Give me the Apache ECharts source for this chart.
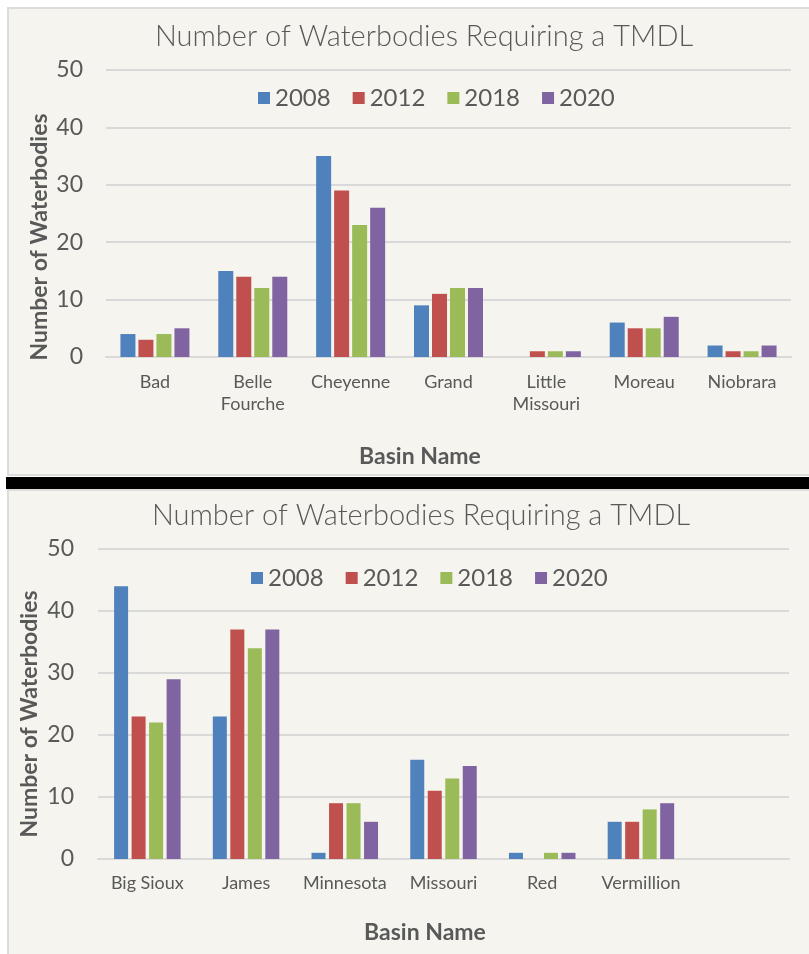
<!DOCTYPE html>
<html>
<head>
<meta charset="utf-8">
<script src="https://cdn.jsdelivr.net/npm/echarts@6/dist/echarts.min.js"></script>
<style>
  body { margin: 0; background: #ffffff; }
  .panel { position: absolute; background: #f5f4ee; box-sizing: border-box; border-top: 2px solid #dcdcdc; border-left: 2px solid #dcdcdc; }
  #panel-top { left: 7px; top: 7px; width: 802px; height: 469px; border-bottom: 2px solid #dcdcdc; }
  #bar-black { position: absolute; left: 6px; top: 477px; width: 803px; height: 12px; background: #000; }
  #panel-bottom { left: 7px; top: 489px; width: 802px; height: 465px; }
  #chart { position: absolute; left: 0; top: 0; width: 809px; height: 954px; }
</style>
</head>
<body>
<div id="panel-top" class="panel"></div>
<div id="bar-black"></div>
<div id="panel-bottom" class="panel"></div>
<div id="chart"></div>
<script>
const years = ['2008', '2012', '2018', '2020'];
const colors = ['#4f81bd', '#c0504d', '#9bbb59', '#8064a2'];

const topBasins = ['Bad', 'Belle\nFourche', 'Cheyenne', 'Grand', 'Little\nMissouri', 'Moreau', 'Niobrara'];
const top2008 = [4, 15, 35, 9, 0, 6, 2];
const top2012 = [3, 14, 29, 11, 1, 5, 1];
const top2018 = [4, 12, 23, 12, 1, 5, 1];
const top2020 = [5, 14, 26, 12, 1, 7, 2];

const bottomBasins = ['Big Sioux', 'James', 'Minnesota', 'Missouri', 'Red', 'Vermillion', ''];
const bottom2008 = [44, 23, 1, 16, 1, 6];
const bottom2012 = [23, 37, 9, 11, 0, 6];
const bottom2018 = [22, 34, 9, 13, 1, 8];
const bottom2020 = [29, 37, 6, 15, 1, 9];

const yMin = 0, yMax = 50, yStep = 10;
const titleText = 'Number of Waterbodies Requiring a TMDL';
const yName = 'Number of Waterbodies';
const xName = 'Basin Name';

const FONT = 'Lato, "Open Sans", sans-serif';
const GREY = '#595959';

const chart = echarts.init(document.getElementById('chart'));

function xAxisFor(idx, data, margin) {
  return {
    gridIndex: idx, type: 'category', data: data,
    axisTick: { show: false },
    axisLine: { lineStyle: { color: '#d9d9d9', width: 2 } },
    axisLabel: { interval: 0, margin: margin, fontFamily: FONT, fontSize: 18, lineHeight: 22, color: GREY }
  };
}
function yAxisFor(idx, margin) {
  return {
    gridIndex: idx, type: 'value', min: yMin, max: yMax, interval: yStep,
    axisLine: { show: false }, axisTick: { show: false },
    splitLine: { lineStyle: { color: '#d9d9d9', width: 2 } },
    axisLabel: { margin: margin, fontFamily: FONT, fontSize: 23, color: GREY }
  };
}
function seriesFor(idx, lists, barWidth, barGap) {
  return lists.map((d, i) => ({
    name: years[i], type: 'bar', xAxisIndex: idx, yAxisIndex: idx,
    data: d, barWidth: barWidth, barGap: barGap,
    itemStyle: { color: colors[i] }
  }));
}
function legendFor(left, top) {
  return {
    data: years, left: left, top: top, padding: 0, icon: 'rect',
    itemWidth: 12, itemHeight: 12, itemGap: 22,
    textStyle: { fontFamily: FONT, fontSize: 24, color: GREY }
  };
}
function label(x, y, text, size, weight, rot) {
  return {
    type: 'text', x: x, y: y, rotation: rot || 0,
    style: { text: text, fontFamily: FONT, fontSize: size, fontWeight: weight, fill: GREY, align: 'center', verticalAlign: 'middle' }
  };
}

chart.setOption({
  animation: false,
  color: colors,
  grid: [
    { left: 106, right: 18, top: 70, height: 287 },
    { left: 98, right: 20, top: 549, height: 310 }
  ],
  xAxis: [xAxisFor(0, topBasins, 14), xAxisFor(1, bottomBasins, 13)],
  yAxis: [yAxisFor(0, 23), yAxisFor(1, 24)],
  legend: [legendFor(258, 86), legendFor(251, 566)],
  series: [
    ...seriesFor(0, [top2008, top2012, top2018, top2020], 15, '20%'),
    ...seriesFor(1, [bottom2008, bottom2012, bottom2018, bottom2020], 14, '25%')
  ],
  graphic: [
    label(424, 37, titleText, 29, 300, 0),
    label(421, 516, titleText, 29, 300, 0),
    label(40, 237, yName, 23, 'bold', Math.PI / 2),
    label(30, 714, yName, 23, 'bold', Math.PI / 2),
    label(420, 457, xName, 23, 'bold', 0),
    label(425, 933, xName, 23, 'bold', 0)
  ]
});
</script>
</body>
</html>
